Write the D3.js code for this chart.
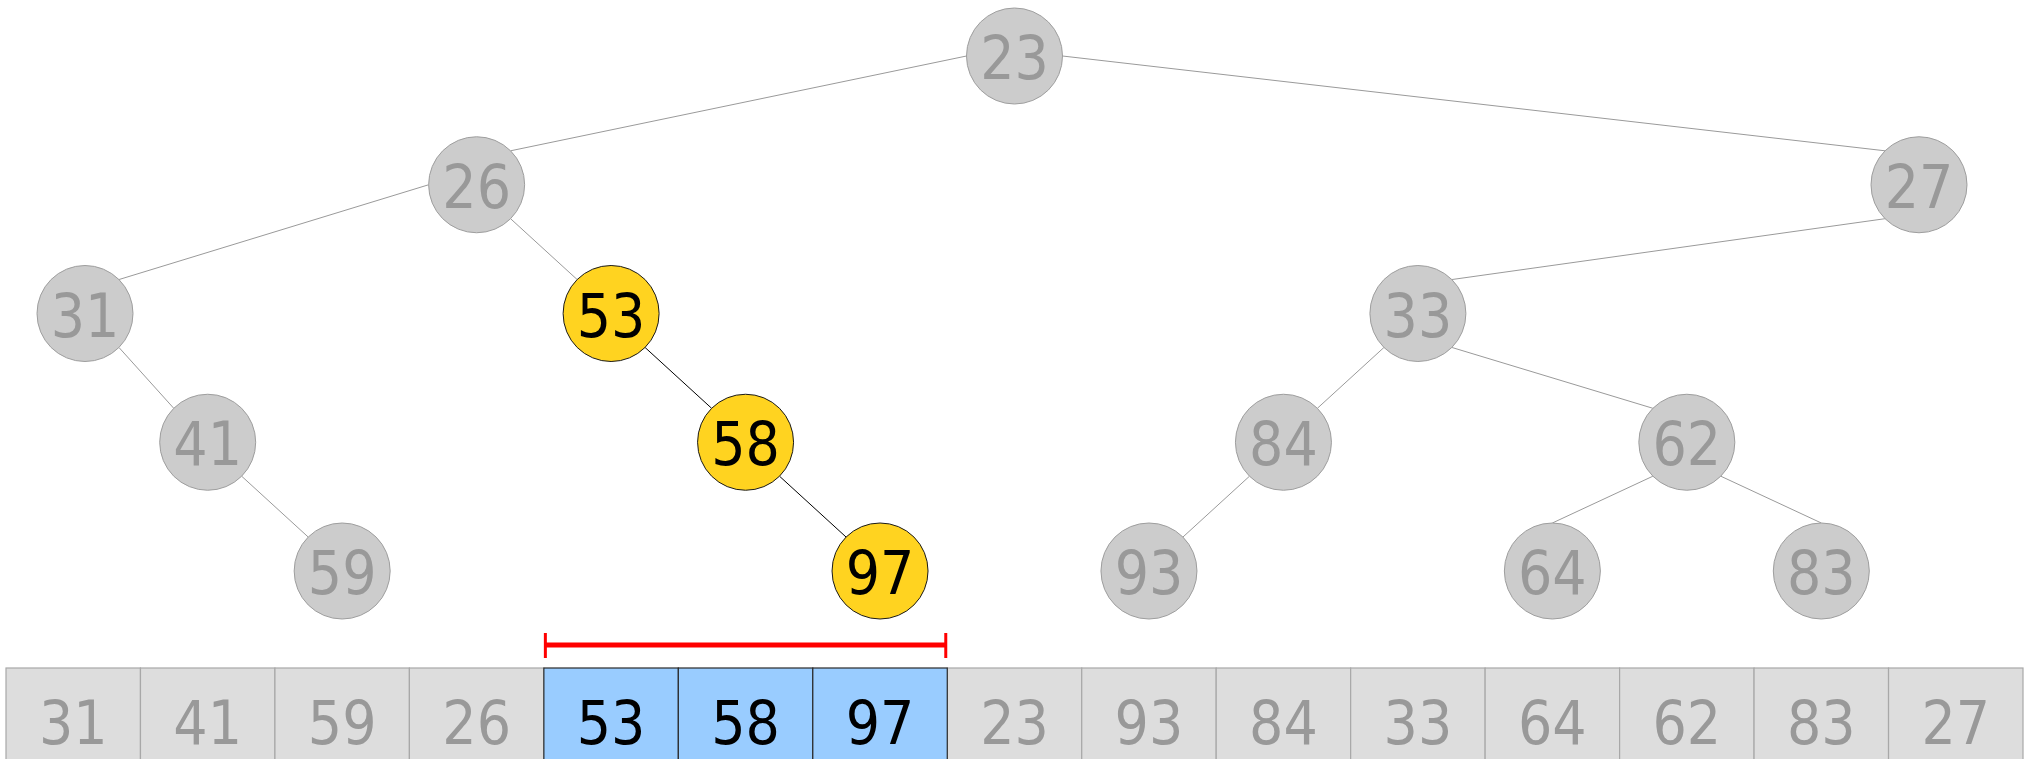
<!DOCTYPE html>
<html>
<head>
<meta charset="utf-8">
<script src="https://cdn.jsdelivr.net/npm/d3@7"></script>
<style>
    body { margin: 0; background: #fff; }
    text { font-family: "DejaVu Sans Condensed", "DejaVu Sans", sans-serif; }
    .cable { stroke: #9a9a9a; stroke-width: 1; }
    .cable.hot { stroke: #000; }
</style>
</head>
<body>
<div id="canvas-container"></div>
<script>
// array contents, in order (the tree is the min cartesian tree of it)
var values = [31, 41, 59, 26, 53, 58, 97, 23, 93, 84, 33, 64, 62, 83, 27];
// highlighted index range (inclusive)
var hiRange = [4, 6];

// connector glue points that differ from the default, keyed by child value (degrees)
var exitOverride = { 31: 180 };
var entryOverride = { 64: -90, 83: -90 };

var W = 2030, H = 759;

function buildTree(lo, hi, depth, out) {
    if (lo > hi) return -1;
    var m = lo;
    for (var i = lo + 1; i <= hi; i++) {
        if (values[i] < values[m]) m = i;
    }
    out[m] = { idx: m, depth: depth, parent: -1 };
    var l = buildTree(lo, m - 1, depth + 1, out);
    var r = buildTree(m + 1, hi, depth + 1, out);
    if (l >= 0) out[l].parent = m;
    if (r >= 0) out[r].parent = m;
    return m;
}

function isHot(i) { return i >= hiRange[0] && i <= hiRange[1]; }

function draw() {
    var nodes = [];
    buildTree(0, values.length - 1, 0, nodes);
    var maxDepth = d3.max(nodes, function (d) { return d.depth; });

    var rad = 48;
    var x = d3.scaleBand().domain(d3.range(values.length)).range([6, 2023]);
    var bw = x.bandwidth();
    var y = d3.scaleLinear().domain([0, maxDepth]).range([56, 571]);
    var tx = function (i) {
        return Math.max(85, Math.min(1919, x(i) + bw / 2));
    };
    var glue = function (d, deg) {
        var a = deg * Math.PI / 180;
        return [tx(d.idx) + rad * Math.cos(a), y(d.depth) + rad * Math.sin(a)];
    };

    var svg = d3.select("#canvas-container").append("svg")
        .attr("width", W)
        .attr("height", H);

    // edges, glued to points on the circles
    nodes.forEach(function (d) {
        if (d.parent < 0) return;
        var p = nodes[d.parent];
        var left = d.idx < p.idx;
        var out = p.depth == 0 ? (left ? 180 : 0) : (left ? 135 : 45);
        var inn = left ? -45 : -135;
        var v = values[d.idx];
        if (exitOverride[v] !== undefined) out = exitOverride[v];
        if (entryOverride[v] !== undefined) inn = entryOverride[v];
        var a = glue(p, out), b = glue(d, inn);
        svg.append("line")
            .attr("class", isHot(d.idx) && isHot(p.idx) ? "cable hot" : "cable")
            .attr("x1", a[0]).attr("y1", a[1])
            .attr("x2", b[0]).attr("y2", b[1]);
    });

    // tree nodes
    var g = svg.selectAll("g.node").data(nodes).enter().append("g")
        .attr("class", "node")
        .attr("transform", function (d) { return "translate(" + tx(d.idx) + "," + y(d.depth) + ")"; });
    g.append("circle")
        .attr("r", rad)
        .attr("fill", function (d) { return isHot(d.idx) ? "#ffd320" : "#cccccc"; })
        .attr("stroke", function (d) { return isHot(d.idx) ? "#1a1a1a" : "#9e9e9e"; })
        .attr("stroke-width", 1);
    g.append("text")
        .attr("text-anchor", "middle")
        .attr("y", 23)
        .attr("font-size", 60)
        .attr("fill", function (d) { return isHot(d.idx) ? "#000" : "#999"; })
        .text(function (d) { return values[d.idx]; });

    // array cells
    var top = 668;
    var cells = svg.selectAll("g.cell").data(values).enter().append("g")
        .attr("class", "cell")
        .attr("transform", function (d, i) { return "translate(" + x(i) + "," + top + ")"; });
    cells.append("rect")
        .attr("width", bw)
        .attr("height", 110)
        .attr("fill", function (d, i) { return isHot(i) ? "#99ccff" : "#dddddd"; })
        .attr("stroke", function (d, i) { return isHot(i) ? "#2a2a2a" : "#a8a8a8"; })
        .attr("stroke-width", 1.2);
    // hot cells on top so their dark borders are not covered
    cells.filter(function (d, i) { return isHot(i); }).raise();
    cells.append("text")
        .attr("x", bw / 2)
        .attr("y", 76)
        .attr("text-anchor", "middle")
        .attr("font-size", 60)
        .attr("fill", function (d, i) { return isHot(i) ? "#000" : "#999"; })
        .text(function (d) { return d; });

    // red range bar
    var bx1 = x(hiRange[0]) + 1.5, bx2 = x(hiRange[1]) + bw - 1.5;
    var by = 645;
    svg.append("line")
        .attr("x1", bx1).attr("x2", bx2).attr("y1", by).attr("y2", by)
        .attr("stroke", "#ff0000").attr("stroke-width", 5);
    [bx1, bx2].forEach(function (bx) {
        svg.append("line")
            .attr("x1", bx).attr("x2", bx).attr("y1", 633).attr("y2", 658)
            .attr("stroke", "#ff0000").attr("stroke-width", 3);
    });
}

draw();
</script>
</body>
</html>
